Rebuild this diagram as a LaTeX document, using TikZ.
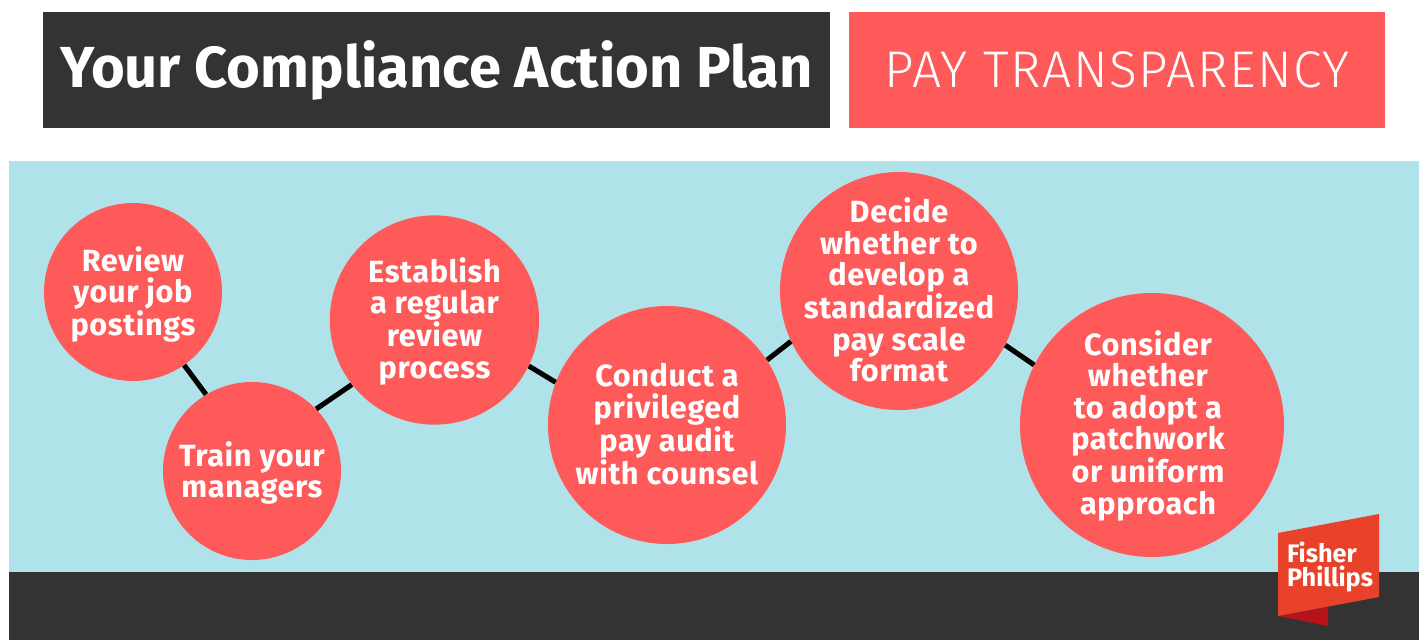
\documentclass[tikz,border=0pt]{standalone}
\usepackage{fontspec}
\setmainfont{Fira Sans}
\newfontfamily\stepface[LetterSpace=2]{Fira Sans}
\newfontfamily\topicface[LetterSpace=3]{Fira Sans Light}
\usetikzlibrary{positioning}
\definecolor{planDark}{HTML}{333333}
\definecolor{planRed}{HTML}{FF5A5A}
\definecolor{planBlue}{HTML}{B0E2E9}
\definecolor{logoRed}{HTML}{E8432A}
\definecolor{logoDark}{HTML}{B5121B}
\tikzset{
  step circle/.style={circle, fill=planRed, inner sep=0pt},
  step text/.style={text=white, inner sep=0pt, align=center,
    font=\stepface\fontsize{23}{23.6}\selectfont\bfseries},
  link/.style={line width=3.8pt, black}
}
\begin{document}
\begin{tikzpicture}[x=0.75pt, y=-0.75pt]
    \useasboundingbox (0,0) rectangle (1425,640);
    % Background bands
    \fill[white] (0,0) rectangle (1425,640);
    \fill[planBlue] (9,161) rectangle (1419,572);
    \fill[planDark] (9,572) rectangle (1419,640);

    % Header
    \node[fill=planDark, text=white, minimum width=590pt, minimum height=87.5pt, inner sep=0pt,
        font=\fontsize{43.4}{48}\selectfont\bfseries] (title) at (436.5,70) {Your Compliance Action Plan};
    \node[fill=planRed, text=white, minimum width=402pt, minimum height=87.5pt, inner sep=0pt,
        font=\topicface\fontsize{38.7}{40}\selectfont] (topic) at (1117,70) {PAY TRANSPARENCY};

    % Steps
    \node[step circle, minimum size=133.5pt, label={[step text, yshift=-2pt]center:{Review\\your job\\postings}}] (review) at (133,292) {};
    \node[step circle, minimum size=133.5pt, label={[step text, yshift=-1.5pt]center:{Train your\\managers}}] (train) at (252,471) {};
    \node[step circle, minimum size=157pt, label={[step text, yshift=-1pt]center:{Establish\\a regular\\review\\process}}] (establish) at (434.5,320) {};
    \node[step circle, minimum size=178.5pt, label={[step text, yshift=0.5pt]center:{Conduct a\\privileged\\pay audit\\with counsel}}] (audit) at (667,425) {};
    \node[step circle, minimum size=178.5pt, label={[step text, yshift=0.8pt]center:{Decide\\whether to\\develop a\\standardized\\pay scale\\format}}] (scale) at (899,291) {};
    \node[step circle, minimum size=198pt, label={[step text, xshift=-3pt, yshift=-0.5pt]center:{Consider\\whether\\to adopt a\\patchwork\\or uniform\\approach}}] (adopt) at (1152,425) {};

    % Links
    \draw[link] (review.-55) -- (train.121);
    \draw[link] (train.44) -- (establish.-142);
    \draw[link] (establish.-26) -- (audit.159);
    \draw[link] (audit.33) -- (scale.-155);
    \draw[link] (scale.-27) -- (adopt.153);

    % Logo
    \fill[logoDark] (1278,616) -- (1328,607) -- (1328,626) -- cycle;
    \fill[logoRed] (1278,533) -- (1379,514) -- (1379,597) -- (1278,616) -- cycle;
    \node[text=white, align=left, inner sep=0pt, font=\fontsize{19}{18}\selectfont\bfseries] (logo) at (1330,567) {Fisher\\Phillips};
\end{tikzpicture}
\end{document}
